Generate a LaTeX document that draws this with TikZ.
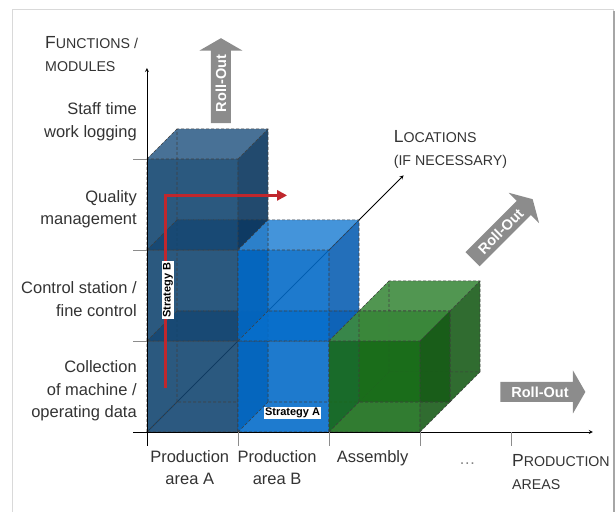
\documentclass[tikz,border=0pt]{standalone}
\usepackage{fontspec}
\setmainfont{Liberation Sans}
\usetikzlibrary{shapes.arrows,arrows.meta}

\definecolor{darkfront}{RGB}{18,69,112}
\definecolor{darktop}{RGB}{51,97,140}
\definecolor{darkside}{RGB}{7,52,92}
\definecolor{bluefront}{RGB}{2,107,201}
\definecolor{bluetop}{RGB}{47,137,216}
\definecolor{blueside}{RGB}{8,93,178}
\definecolor{greenfront}{RGB}{24,108,24}
\definecolor{greentop}{RGB}{62,140,62}
\definecolor{greenside}{RGB}{22,90,22}
\definecolor{rollgray}{RGB}{140,140,140}
\definecolor{stratred}{RGB}{192,39,45}
\definecolor{labelgray}{RGB}{51,51,51}

\def\dep{0.33}

% one cell of the matrix: x, y, depth step, colour family
\newcommand{\cellbox}[4]{%
  \begin{scope}[shift={({#1+#3*\dep},{#2+#3*\dep})}]
    \fill[#4side, fill opacity=.25] (\dep,\dep) rectangle (1+\dep,1+\dep);
    \fill[#4side, fill opacity=.25] (0,0) -- (\dep,\dep) -- (\dep,1+\dep) -- (0,1) -- cycle;
    \fill[#4front, fill opacity=.25] (0,0) -- (1,0) -- (1+\dep,\dep) -- (\dep,\dep) -- cycle;
    \fill[#4front, fill opacity=.85] (0,0) rectangle (1,1);
    \fill[#4top, fill opacity=.85] (0,1) -- (\dep,1+\dep) -- (1+\dep,1+\dep) -- (1,1) -- cycle;
    \fill[#4side, fill opacity=.85] (1,0) -- (1+\dep,\dep) -- (1+\dep,1+\dep) -- (1,1) -- cycle;
    \draw[edge] (0,0) rectangle (1,1) (\dep,\dep) rectangle (1+\dep,1+\dep)
      (0,0) -- (\dep,\dep) (1,0) -- (1+\dep,\dep)
      (0,1) -- (\dep,1+\dep) (1,1) -- (1+\dep,1+\dep);
  \end{scope}}

\newcommand{\firstcap}[1]{{\fontsize{17.5}{23}\selectfont #1}}

\begin{document}
\begin{tikzpicture}[x=91pt, y=91pt,
    edge/.style={black!75, dash pattern=on 3pt off 2pt, line width=0.6pt},
    axis/.style={black, line width=0.8pt, ->, >=stealth},
    tick/.style={black!45, line width=0.6pt},
    lbl/.style={text=labelgray, inner sep=0pt, font=\fontsize{16.5}{22.5}\selectfont},
    sclbl/.style={text=labelgray, inner sep=0pt, align=left, font=\fontsize{14.2}{23}\selectfont},
    strat/.style={fill=white, inner sep=1.2pt, font=\fontsize{11}{12}\selectfont\bfseries},
    rollout/.style={single arrow, fill=rollgray, text=white, inner sep=1pt,
      font=\fontsize{14.5}{15}\selectfont\bfseries, minimum height=85pt, minimum width=43pt,
      single arrow head extend=7.5pt, single arrow tip angle=120}
]
    \useasboundingbox (-1.615,-0.879) rectangle (5.154,4.747);
    \draw[black!15, line width=0.8pt] (-1.478,-1.2) rectangle (5.12,4.643);
    \draw[black!35, line width=2pt] (5.135,-1.2) -- (5.135,4.63);

    % Axis ends
    \coordinate (origin) at (0,0);
    \coordinate (ybot) at (0,-0.15);
    \coordinate (ytop) at (0,4.0);
    \coordinate (xbeg) at (-0.15,0);
    \coordinate (xend) at (4.9,0);
    \coordinate (zend) at (2.82,2.82);

    % Locations axis (behind the cells)
    \draw[axis] (origin) -- (zend);

    % Cells
    \cellbox{0}{0}{0}{dark}
    \cellbox{0}{1}{0}{dark}
    \cellbox{0}{2}{0}{dark}
    \cellbox{1}{0}{0}{blue}
    \cellbox{1}{1}{0}{blue}
    \cellbox{2}{0}{1}{green}
    \cellbox{2}{0}{0}{green}

    % Axes and ticks
    \draw[axis] (ybot) -- (ytop);
    \draw[axis] (xbeg) -- (xend);
    \foreach \k in {1,2,3}
        \draw[tick] (-0.15,\k) -- (0,\k);
    \foreach \k in {1,2,3,4}
        \draw[tick] (\k,-0.15) -- (\k,0);

    % Strategy B
    \coordinate (sbfoot) at (0.2,0.48);
    \coordinate (sbtip) at (1.54,2.6);
    \draw[stratred, line width=2.8pt, -{Triangle[length=10pt,width=10pt]}] (sbfoot) |- (sbtip);
    \node[strat, rotate=90] (stratB) at (0.23,1.56) {Strategy B};
    \node[strat] (stratA) at (1.6,0.21) {Strategy A};

    % Roll-out arrows
    \node[rollout, rotate=90, anchor=tip] (rollup) at (0.813,4.33) {Roll-Out};
    \node[rollout, rotate=45, anchor=tip] (rolldiag) at (4.24,2.56) {Roll-Out};
    \node[rollout, anchor=tip] (rollright) at (4.82,0.44) {Roll-Out};

    % Functions
    \node[lbl, anchor=east, align=right] (fstaff) at (-0.11,3.41) {Staff time\\work logging};
    \node[lbl, anchor=east, align=right] (fquality) at (-0.11,2.45) {Quality\\management};
    \node[lbl, anchor=east, align=right] (fcontrol) at (-0.11,1.46) {Control station /\\fine control};
    \node[lbl, anchor=east, align=right] (fcollect) at (-0.11,0.45) {Collection\\of machine /\\operating data};

    % Production areas
    \node[lbl, anchor=north, align=center] (areaA) at (0.47,-0.2) {Production\\area A};
    \node[lbl, anchor=north, align=center] (areaB) at (1.43,-0.2) {Production\\area B};
    \node[lbl, anchor=north] (assembly) at (2.48,-0.2) {Assembly};
    \node[lbl, anchor=base, text=labelgray!60] (more) at (3.52,-0.36) {\dots};

    % Axis titles
    \node[sclbl, anchor=north west] (functions) at (-1.12,4.35) {\firstcap{F}UNCTIONS /\\MODULES};
    \node[sclbl, anchor=north west] (locations) at (2.71,3.32) {\firstcap{L}OCATIONS\\(IF NECESSARY)};
    \node[sclbl, anchor=north west] (prodareas) at (4.01,-0.25) {\firstcap{P}RODUCTION\\AREAS};
\end{tikzpicture}
\end{document}
